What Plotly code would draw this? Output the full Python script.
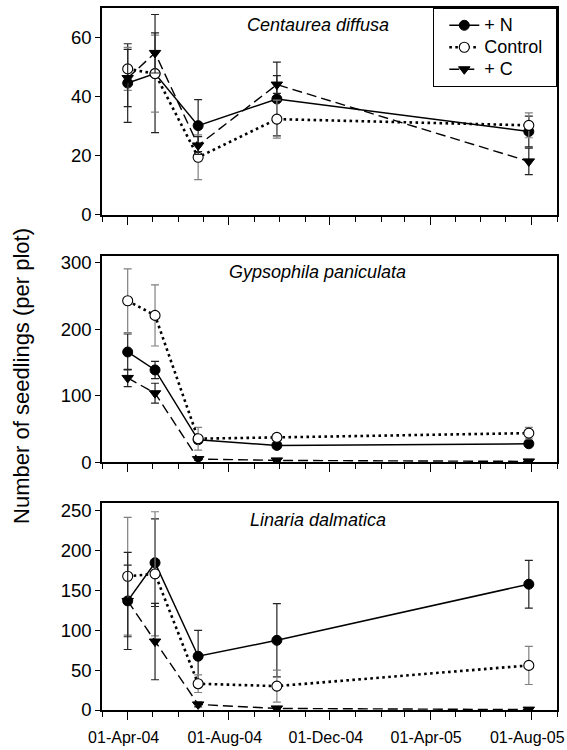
import plotly.graph_objects as go

dates = ["2004-04-01", "2004-05-04", "2004-06-25", "2004-09-28", "2005-07-29"]
series_names = ["+ N", "Control", "+ C"]

# Centaurea diffusa
cen_n = [44.6, 47.8, 30.2, 39.2, 28.2]
cen_n_err = [13.3, 20.0, 8.8, 12.5, 5.2]
cen_ctrl = [49.4, 47.8, 19.5, 32.4, 30.3]
cen_ctrl_err = [7.3, 13.0, 7.6, 6.4, 4.2]
cen_c = [46.3, 54.8, 23.5, 44.1, 18.1]
cen_c_err = [9.7, 6.8, 3.0, 3.0, 4.5]

# Gypsophila paniculata
gyp_n = [166, 139, 34, 25.6, 28]
gyp_n_err = [27, 13, 5, 4, 4]
gyp_ctrl = [243, 221, 35.6, 37.6, 44]
gyp_ctrl_err = [48, 46, 17, 5, 8.6]
gyp_c = [127, 104, 5, 3, 1.5]
gyp_c_err = [13, 15, 2, 1.5, 1]

# Linaria dalmatica
lin_n = [137, 185, 67.5, 87.5, 158]
lin_n_err = [45, 55, 32.5, 46, 30]
lin_ctrl = [168, 171, 33, 30, 56]
lin_ctrl_err = [74, 78, 11, 20, 24]
lin_c = [137, 86, 7, 2, 0.5]
lin_c_err = [61, 48, 3, 1, 0.5]

panel_titles = ["Centaurea diffusa", "Gypsophila paniculata", "Linaria dalmatica"]
y_ranges = [[0, 70], [0, 311], [0, 260]]
y_dticks = [20, 100, 50]
x_range = ["2004-03-01", "2005-09-01"]

panels = [
    [(cen_n, cen_n_err), (cen_ctrl, cen_ctrl_err), (cen_c, cen_c_err)],
    [(gyp_n, gyp_n_err), (gyp_ctrl, gyp_ctrl_err), (gyp_c, gyp_c_err)],
    [(lin_n, lin_n_err), (lin_ctrl, lin_ctrl_err), (lin_c, lin_c_err)],
]

FONT = "Arial, Liberation Sans, sans-serif"
styles = [
    dict(line=dict(color="black", width=1.5, dash="solid"),
         marker=dict(symbol="circle", size=10, color="black", line=dict(color="black", width=1)),
         err_color="#222222"),
    dict(line=dict(color="black", width=2.6, dash="2.6px,3.4px"),
         marker=dict(symbol="circle", size=10, color="white", line=dict(color="black", width=1.1)),
         err_color="#808080"),
    dict(line=dict(color="black", width=1.4, dash="10px,5px"),
         marker=dict(symbol="triangle-down", size=10, color="black", line=dict(color="black", width=1)),
         err_color="#222222"),
]

domains = [[0.7053, 1.0], [0.3527, 0.6474], [0.0, 0.2949]]

fig = go.Figure()
for p, panel in enumerate(panels):
    xa = "x" if p == 0 else f"x{p+1}"
    ya = "y" if p == 0 else f"y{p+1}"
    for s, (vals, errs) in enumerate(panel):
        st = styles[s]
        label = f'<span style="font-size:18px">{series_names[s]}</span>\u00a0\u00a0'
        fig.add_trace(go.Scatter(
            x=dates, y=vals, xaxis=xa, yaxis=ya,
            mode="lines+markers", name=label,
            showlegend=(p == 0),
            line=st["line"], marker=st["marker"],
            error_y=dict(type="data", array=errs, visible=True,
                         color=st["err_color"], thickness=1.2, width=4),
        ))

layout = dict(
    width=567, height=750,
    margin=dict(l=102, r=10, t=8, b=40, autoexpand=False),
    paper_bgcolor="white", plot_bgcolor="white",
    font=dict(family=FONT, size=17, color="black"),
    legend=dict(x=1, xanchor="right", y=1, yanchor="top",
                bordercolor="black", borderwidth=1.3, bgcolor="white",
                font=dict(size=14.6), tracegroupgap=0, indentation=10),
    showlegend=True,
)

annotations = []
for p in range(3):
    xk = "xaxis" if p == 0 else f"xaxis{p+1}"
    yk = "yaxis" if p == 0 else f"yaxis{p+1}"
    ya = "y" if p == 0 else f"y{p+1}"
    layout[xk] = dict(
        type="date", range=x_range, anchor=ya, automargin=False,
        tick0="2004-04-01", dtick="M4", tickformat="%d-%b-%y",
        ticks="outside", ticklen=8, tickwidth=1.3, tickcolor="black",
        minor=dict(dtick="M1", tick0="2004-04-01", ticks="outside", ticklen=5,
                   tickwidth=1.2, tickcolor="black", showgrid=False),
        showline=True, linecolor="black", linewidth=1.5, mirror=True,
        showgrid=False, zeroline=False,
        showticklabels=(p == 2),
        tickfont=dict(size=16),
        ticklabeloverflow="allow",
        ticklabelstandoff=4,
        ticklabelshift=-4,
    )
    layout[yk] = dict(
        domain=domains[p], range=y_ranges[p], dtick=y_dticks[p], tick0=0,
        automargin=False,
        ticks="outside", ticklen=5, tickwidth=1.3, tickcolor="black",
        showline=True, linecolor="black", linewidth=1.5, mirror=True,
        showgrid=False, zeroline=False, tickfont=dict(size=18.5),
    )
    annotations.append(dict(
        text=f"<i>{panel_titles[p]}</i>", xref="paper", yref=f"{ya} domain",
        x=0.474, y=0.92, xanchor="center", yanchor="middle",
        showarrow=False, font=dict(size=18),
    ))

annotations.append(dict(
    text="Number of seedlings (per plot)", xref="paper", yref="paper",
    x=-0.176, y=0.4758, xanchor="center", yanchor="middle", textangle=-90,
    showarrow=False, font=dict(size=22),
))
layout["annotations"] = annotations
fig.update_layout(**layout)

fig.write_html("out.html")
